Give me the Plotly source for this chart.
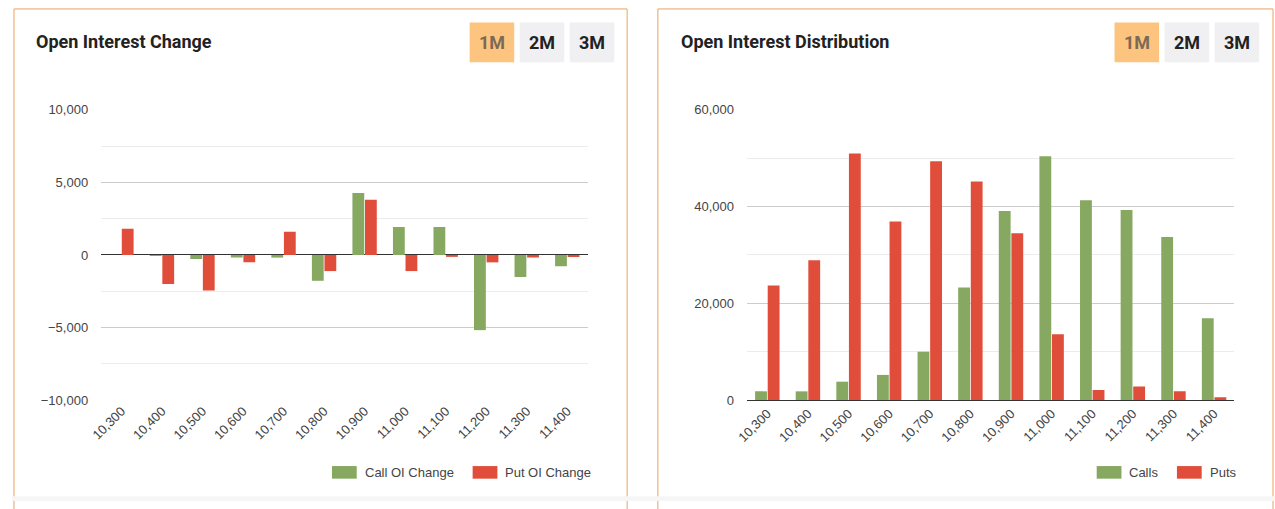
import plotly.graph_objects as go

W, H = 1275, 509

strikes = ["10,300", "10,400", "10,500", "10,600", "10,700", "10,800",
           "10,900", "11,000", "11,100", "11,200", "11,300", "11,400"]
call_oi_change = [0, -20, -270, -180, -180, -1780, 4270, 1930, 1930, -5180, -1510, -780]
put_oi_change = [1800, -2000, -2450, -510, 1600, -1110, 3800, -1110, -90, -510, -180, -90]
calls_oi = [1800, 1800, 3800, 5200, 10000, 23300, 39100, 50400, 41300, 39300, 33700, 16900]
puts_oi = [23700, 28900, 51000, 36900, 49400, 45200, 34500, 13600, 2100, 2800, 1800, 600]

left_legend = ["Call OI Change", "Put OI Change"]
right_legend = ["Calls", "Puts"]
buttons = ["1M", "2M", "3M"]

GREEN = "#86a861"
RED = "#e04e3b"
ORANGE_BORDER = "#eba35e"


def px(x):
    return x / W


def py(y):
    return 1 - y / H


fig = go.Figure()
for name, vals, col, xa, ya in [
    (left_legend[0], call_oi_change, GREEN, "x", "y"),
    (left_legend[1], put_oi_change, RED, "x", "y"),
    (right_legend[0], calls_oi, GREEN, "x2", "y2"),
    (right_legend[1], puts_oi, RED, "x2", "y2"),
]:
    fig.add_trace(go.Bar(x=strikes, y=vals, name=name,
                         marker=dict(color=col, line=dict(width=0)),
                         xaxis=xa, yaxis=ya, showlegend=False))

FONT = "Liberation Sans, Arial, sans-serif"
tickfont = dict(family=FONT, size=13, color="#444")

fig.update_layout(
    width=W, height=H,
    margin=dict(l=0, r=0, t=0, b=0),
    paper_bgcolor="white", plot_bgcolor="white",
    barmode="group", bargap=0.38, bargroupgap=0.06,
    showlegend=False,
    xaxis=dict(domain=[px(90), px(581)], anchor="y", type="category",
               tickangle=-45, tickfont=tickfont, showgrid=False,
               showline=False, ticks="", fixedrange=True),
    yaxis=dict(domain=[py(405), py(106)], anchor="x", range=[-10000, 10000],
               dtick=5000, tickformat=",", tickfont=tickfont,
               gridcolor="#cccccc", gridwidth=1,
               minor=dict(dtick=2500, showgrid=True, gridcolor="#ececec"),
               zeroline=True, zerolinecolor="#333333", zerolinewidth=1,
               ticks="", ticklabelstandoff=12, fixedrange=True),
    xaxis2=dict(domain=[px(742), px(1234)], anchor="y2", type="category",
                tickangle=-45, tickfont=tickfont, showgrid=False,
                showline=True, linecolor="#333333", linewidth=1,
                ticks="", fixedrange=True),
    yaxis2=dict(domain=[py(405), py(106)], anchor="x2", range=[0, 60000],
                dtick=20000, tickformat=",", tickfont=tickfont,
                gridcolor="#cccccc", gridwidth=1,
                minor=dict(dtick=10000, showgrid=True, gridcolor="#ececec"),
                zeroline=False, ticks="", ticklabelstandoff=12, fixedrange=True),
)

shapes = []
annotations = []

# panel cards with orange outline
for x0, x1 in [(2, 621), (652, 1273)]:
    shapes.append(dict(type="rect", xref="paper", yref="paper",
                       x0=px(x0), x1=px(x1), y0=py(520), y1=py(2),
                       line=dict(color=ORANGE_BORDER, width=1), fillcolor="white",
                       layer="below"))
# faint grey strip along the bottom edge
shapes.append(dict(type="rect", xref="paper", yref="paper", x0=0, x1=1,
                   y0=py(509), y1=py(504), fillcolor="#f6f6f6", line=dict(width=0), layer="below"))

# titles
for x, text in [(22, "Open Interest Change"), (673, "Open Interest Distribution")]:
    annotations.append(dict(xref="paper", yref="paper", x=px(x), y=py(36),
                            xanchor="left", yanchor="middle", showarrow=False,
                            text="<b>" + text + "</b>",
                            font=dict(family="Roboto, sans-serif", size=18, color="#222")))

# range buttons
for off in [0, 651]:
    for i, lab in enumerate(buttons):
        bx0 = 462 + off + i * 50.5
        bx1 = bx0 + 45
        active = i == 0
        shapes.append(dict(type="rect", xref="paper", yref="paper",
                           x0=px(bx0), x1=px(bx1), y0=py(57), y1=py(16),
                           fillcolor="#fdc47f" if active else "#f0f0f2",
                           line=dict(width=0), layer="below"))
        annotations.append(dict(xref="paper", yref="paper", x=px((bx0 + bx1) / 2), y=py(36.5),
                                xanchor="center", yanchor="middle", showarrow=False,
                                text="<b>" + lab + "</b>",
                                font=dict(family="Roboto, sans-serif", size=18,
                                          color="#7a6a56" if active else "#222")))

# legends (swatch + label)
legend_items = [
    (323, left_legend[0], GREEN), (465, left_legend[1], RED),
    (1095, right_legend[0], GREEN), (1176, right_legend[1], RED),
]
for sx, lab, col in legend_items:
    shapes.append(dict(type="rect", xref="paper", yref="paper",
                       x0=px(sx), x1=px(sx + 25), y0=py(486), y1=py(473),
                       fillcolor=col, line=dict(width=0)))
    annotations.append(dict(xref="paper", yref="paper", x=px(sx + 31), y=py(479.5),
                            xanchor="left", yanchor="middle", showarrow=False, text=lab,
                            font=dict(family=FONT, size=13, color="#444")))

fig.update_layout(shapes=shapes, annotations=annotations)

fig.write_html(
    "out.html",
    config={"displayModeBar": False},
    post_script="document.documentElement.style.margin='0';document.body.style.margin='0';"
                "document.documentElement.style.overflow='hidden';document.body.style.overflow='hidden';",
)
